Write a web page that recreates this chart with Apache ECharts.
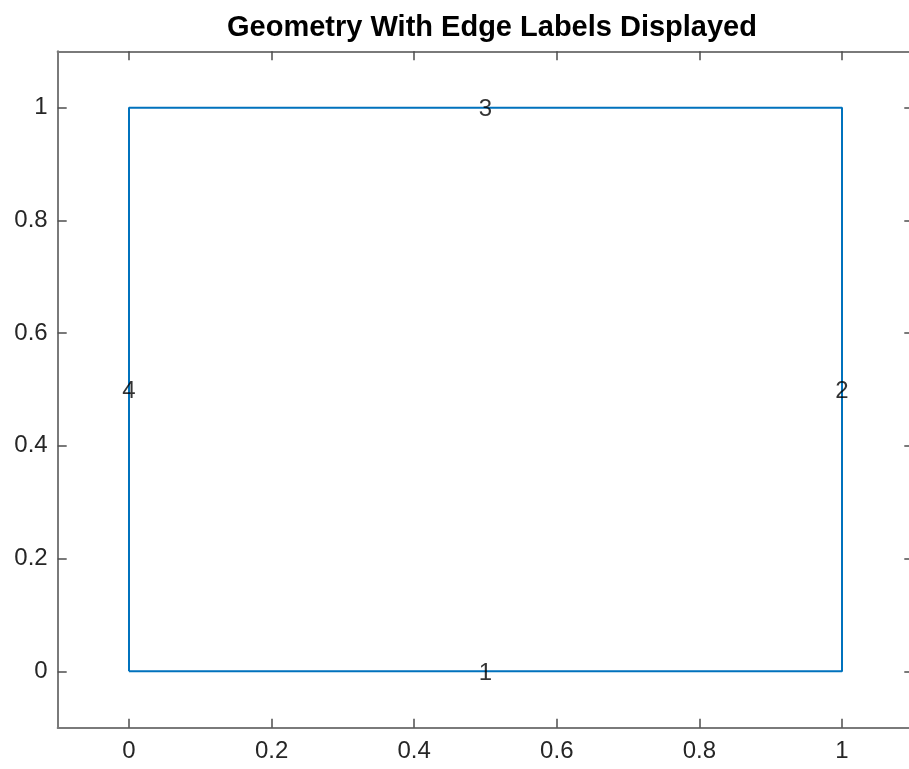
<!DOCTYPE html>
<html>
<head>
<meta charset="utf-8">
<script src="https://cdn.jsdelivr.net/npm/echarts@6/dist/echarts.min.js"></script>
<style>
html,body{margin:0;padding:0;background:#fff;}
#chart{width:909px;height:769px;}
</style>
</head>
<body>
<div id="chart"></div>
<script>
// Geometry boundary (unit square), in drawing order
const boundaryX = [0, 1, 1, 0, 0];
const boundaryY = [0, 0, 1, 1, 0];
// Edge labels at edge midpoints
const edgeNames = ['1', '2', '3', '4'];
const edgeX = [0.5, 1, 0.5, 0];
const edgeY = [0, 0.5, 1, 0.5];
// Tick values
const xTicks = [0, 0.2, 0.4, 0.6, 0.8, 1];
const yTicks = [0, 0.2, 0.4, 0.6, 0.8, 1];
const axisRange = [-0.1, 1.1];

const chart = echarts.init(document.getElementById('chart'), null, {renderer: 'canvas'});

const FONT = 'Liberation Sans, Arial, Helvetica, sans-serif';
const axisLineStyle = {color: '#7a7a7a', width: 2};
const labelColor = '#262626';
const TICK_FS = 24;

function makeAxis(extra, ticks, showLabel) {
  return Object.assign({
    type: 'value',
    min: axisRange[0],
    max: axisRange[1],
    splitLine: {show: false},
    axisLine: {show: true, onZero: false, lineStyle: axisLineStyle},
    axisTick: {show: true, inside: true, length: 9, customValues: ticks, lineStyle: {color: '#4d4d4d', width: 1.5}},
    axisLabel: {show: showLabel, customValues: ticks, color: labelColor, fontSize: TICK_FS, fontFamily: FONT},
  }, extra);
}

const option = {
  animation: false,
  backgroundColor: '#fff',
  title: {
    text: 'Geometry With Edge Labels Displayed',
    left: 487, top: 8, textAlign: 'center',
    textStyle: {fontSize: 29, fontWeight: 'bold', color: '#000', fontFamily: FONT}
  },
  grid: {left: 57.7, top: 51.3, width: 855.6, height: 676.4, containLabel: false, outerBoundsMode: 'none'},
  xAxis: [
    makeAxis({position: 'bottom', axisLabel: {show: true, customValues: xTicks, color: labelColor, fontSize: TICK_FS, fontFamily: FONT, margin: 12}}, xTicks, true),
    makeAxis({position: 'top'}, xTicks, false)
  ],
  yAxis: [
    makeAxis({position: 'left', axisLabel: {show: true, customValues: yTicks, color: labelColor, fontSize: TICK_FS, fontFamily: FONT, margin: 10}}, yTicks, true),
    makeAxis({position: 'right'}, yTicks, false)
  ],
  series: [
    {
      type: 'line',
      xAxisIndex: 0, yAxisIndex: 0,
      data: boundaryX.map((x, i) => [x, boundaryY[i]]),
      showSymbol: false, symbol: 'none',
      lineStyle: {color: '#0072BD', width: 2},
      silent: true
    },
    {
      type: 'scatter',
      xAxisIndex: 0, yAxisIndex: 0,
      data: edgeNames.map((n, i) => ({name: n, value: [edgeX[i], edgeY[i]]})),
      symbolSize: 1,
      itemStyle: {color: 'rgba(0,0,0,0)'},
      label: {show: true, position: 'inside', offset: [0, 2], formatter: '{b}', color: '#000', fontSize: 24, fontFamily: FONT},
      silent: true,
      z: 5
    }
  ]
};
chart.setOption(option);
</script>
</body>
</html>
